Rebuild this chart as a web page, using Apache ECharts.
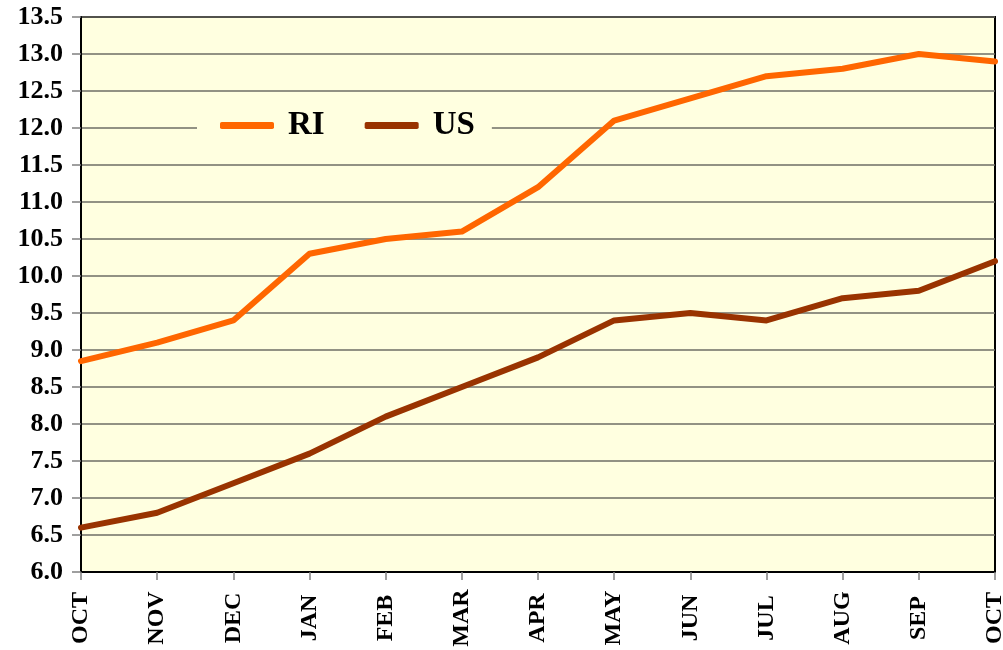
<!DOCTYPE html>
<html>
<head>
<meta charset="utf-8">
<script src="https://cdn.jsdelivr.net/npm/echarts@6/dist/echarts.min.js"></script>
<style>
  html, body { margin: 0; padding: 0; background: #ffffff; }
  #chart { width: 1003px; height: 650px; }
</style>
</head>
<body>
<div id="chart"></div>
<script>
// Months from October through the following October
const months = ['OCT', 'NOV', 'DEC', 'JAN', 'FEB', 'MAR', 'APR', 'MAY', 'JUN', 'JUL', 'AUG', 'SEP', 'OCT'];
// Rates (%) for Rhode Island and the United States
const riValues = [8.85, 9.1, 9.4, 10.3, 10.5, 10.6, 11.2, 12.1, 12.4, 12.7, 12.8, 13.0, 12.9];
const usValues = [6.6, 6.8, 7.2, 7.6, 8.1, 8.5, 8.9, 9.4, 9.5, 9.4, 9.7, 9.8, 10.2];
const yMin = 6.0, yMax = 13.5, yStep = 0.5;

const labelFont = 'Liberation Serif, Times New Roman, serif';

const chart = echarts.init(document.getElementById('chart'), null, { renderer: 'canvas' });
chart.setOption({
  animation: false,
  backgroundColor: '#ffffff',
  grid: {
    left: 81, right: 8, top: 17, bottom: 78,
    outerBoundsMode: 'none',
    containLabel: false,
    show: true,
    backgroundColor: '#FFFFE0',
    borderColor: '#000000',
    borderWidth: 2
  },
  legend: {
    left: 197,
    top: 107,
    padding: [2, 17, 2, 23],
    backgroundColor: '#FFFFE0',
    itemGap: 40,
    itemWidth: 54,
    itemHeight: 7,
    icon: 'roundRect',
    textStyle: {
      fontFamily: labelFont,
      fontWeight: 'bold',
      fontSize: 33,
      color: '#000000',
      padding: [0, 0, 0, 9]
    },
    data: ['RI', 'US']
  },
  xAxis: {
    type: 'category',
    data: months,
    boundaryGap: false,
    axisLine: { lineStyle: { color: '#000000', width: 2 } },
    axisTick: { show: true, length: 8, lineStyle: { color: '#808080', width: 1.5 } },
    axisLabel: {
      rotate: 90,
      align: 'center',
      verticalAlign: 'middle',
      margin: 46,
      interval: 0,
      hideOverlap: false,
      fontFamily: labelFont,
      fontWeight: 'bold',
      fontSize: 24,
      color: '#000000'
    },
    splitLine: { show: false }
  },
  yAxis: {
    type: 'value',
    min: yMin,
    max: yMax,
    interval: yStep,
    axisLine: { show: true, lineStyle: { color: '#000000', width: 2 } },
    axisTick: { show: true, length: 9, lineStyle: { color: '#808080', width: 1.5 } },
    axisLabel: {
      margin: 18,
      fontFamily: labelFont,
      fontWeight: 'bold',
      fontSize: 26,
      color: '#000000',
      formatter: v => v.toFixed(1)
    },
    splitLine: { show: true, lineStyle: { color: '#6e6e66', width: 1.5 } }
  },
  series: [
    {
      name: 'RI',
      type: 'line',
      data: riValues,
      symbol: 'none',
      itemStyle: { color: '#FF6600' },
      lineStyle: { color: '#FF6600', width: 6, cap: 'round', join: 'round' },
      z: 3
    },
    {
      name: 'US',
      type: 'line',
      data: usValues,
      symbol: 'none',
      itemStyle: { color: '#993300' },
      lineStyle: { color: '#993300', width: 6, cap: 'round', join: 'round' },
      z: 2
    }
  ]
});
</script>
</body>
</html>
